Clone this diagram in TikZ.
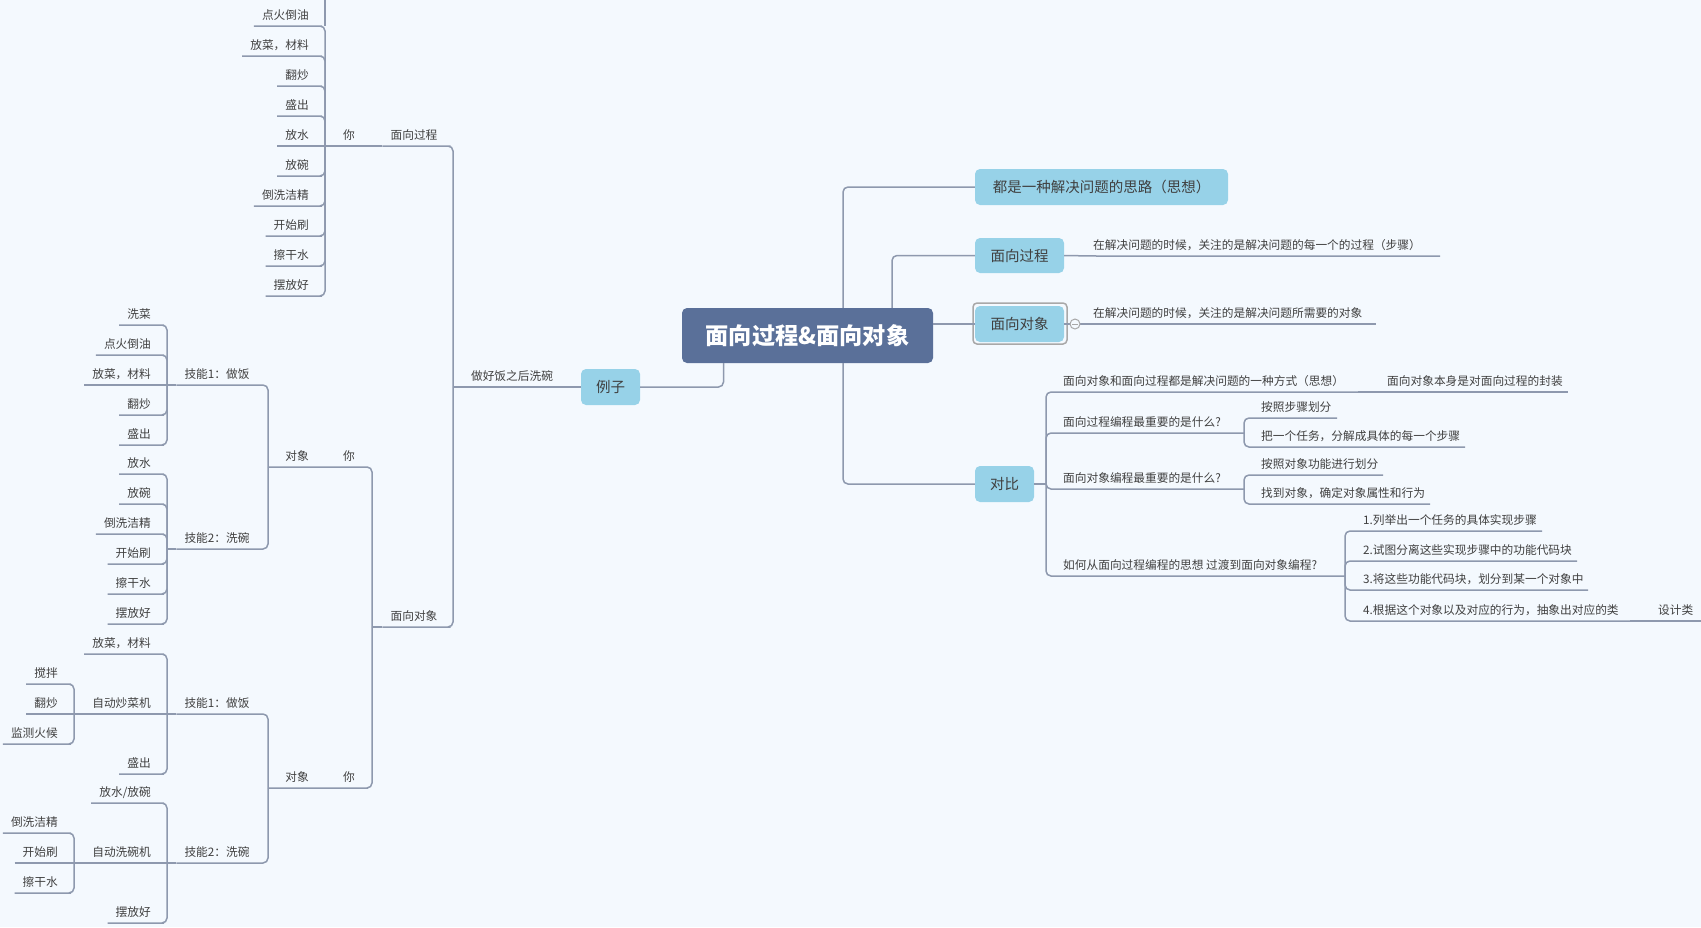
\documentclass[tikz,border=0pt]{standalone}
\usepackage{fontspec}
\setmainfont{Noto Sans CJK SC}
\usetikzlibrary{calc}
\definecolor{bgc}{HTML}{F4F9FE}
\definecolor{lnc}{HTML}{8E99AE}
\definecolor{txc}{HTML}{404040}
\definecolor{boxc}{HTML}{97D2E8}
\definecolor{rootc}{HTML}{5A7099}
\definecolor{selc}{HTML}{A8A8A8}
\tikzset{
  ln/.style={draw=lnc, line width=1.5pt, rounded corners=5pt},
  lt/.style={font=\fontsize{11.7}{14}\selectfont, text=txc, inner xsep=8pt, inner ysep=0pt, text height=9pt, text depth=6.2pt},
  rt/.style={lt, inner xsep=0pt, anchor=south west},
  bx/.style={fill=boxc, rounded corners=5pt, text=txc, font=\fontsize{14.5}{17}\selectfont, inner sep=0pt, minimum height=36pt},
  rootbox/.style={fill=rootc, rounded corners=5pt, text=white, font=\fontsize{23.2}{27}\selectfont\bfseries, inner sep=0pt, minimum width=251pt, minimum height=55pt},
  frame/.style={draw=selc, line width=1.5pt, rounded corners=4pt, inner sep=0pt, minimum width=94pt, minimum height=41pt}
}
\newcommand\brL[5]{\node[lt,anchor=south east] (#1) at (#2,#3) {#4};
  \draw[ln] (#1.south west) -- (#1.south east) -| (#5);}
\newcommand\brS[5]{\node[lt,anchor=south east] (#1) at (#2,#3) {#4};
  \draw[ln] (#1.south west) -- (#5);}
\newcommand\brR[6]{\node[rt] (#1) at (#2,#3) {#4};
  \draw[ln] (#5) |- (#1.south west) -- ++(#6,0);}
\begin{document}
\begin{tikzpicture}[x=1pt,y=-1pt]
\fill[bgc] (0,0) rectangle (1701,927);
\useasboundingbox (0,0) rectangle (1701,927);

% ---------- central and main boxes ----------
\node[rootbox] (root) at (807.5,335.5) {面向过程\&面向对象};
\node[bx, minimum width=253pt] (ds) at (1101.5,187) {都是一种解决问题的思路（思想）};
\node[bx, minimum width=89pt, minimum height=35pt] (gc) at (1019.5,255.5) {面向过程};
\node[frame] (dxf) at (1020,323.5) {};
\node[bx, minimum width=89pt] (dx) at (1019.5,324) {面向对象};
\node[bx, minimum width=59pt] (db) at (1004.5,484) {对比};
\node[bx, minimum width=59pt] (lz) at (610.5,387) {例子};

\draw[ln] ([xshift=35.5pt]root.north) |- (ds.west);
\draw[ln] ([xshift=84.5pt]root.north) |- (gc.west);
\draw[ln] (root.east |- dx.west) -- (dx.west);
\draw[ln] ([xshift=35.5pt]root.south) |- (db.west);
\draw[ln] ([xshift=-84pt]root.south) |- (lz.east);

% ---------- right side texts ----------
\node[rt] (gcT) at (1093,256) {在解决问题的时候，关注的是解决问题的每一个的过程（步骤）};
\draw[ln] (gc.east) -- (gcT.south west) -- ++(347,0);
\node[rt] (dxT) at (1093,324) {在解决问题的时候，关注的是解决问题所需要的对象};
\draw[ln] (dx.east) -- (dxT.south west) -- ++(283,0);
\node[circle, draw=selc, fill=bgc, line width=1pt, minimum size=10pt, inner sep=0pt] (dxc) at (1075,324) {};
\draw[selc, line width=1pt] ([xshift=-3pt]dxc.center) -- ([xshift=3pt]dxc.center);

\coordinate (jdb) at (1046,484);
\draw[ln] (db.east) -- (jdb);
\coordinate (jc1) at (1358,392);
\coordinate (jc2) at (1244,433);
\coordinate (jc3) at (1244,489);
\coordinate (jc4) at (1345,576);
\coordinate (jd4) at (1630,621);

\node[rt] (c1) at (1063,392) {面向对象和面向过程都是解决问题的一种方式（思想）};
\draw[ln] (jdb) |- (c1.south west) -- (jc1);
\node[rt] (c1a) at (1387,392) {面向对象本身是对面向过程的封装};
\draw[ln] (jc1) -- (c1a.south west) -- ++(181,0);

\node[rt] (c2) at (1063,433) {面向过程编程最重要的是什么?};
\draw[ln] (jdb) |- (c2.south west) -- (jc2);
\brR{c2a}{1261}{418}{按照步骤划分}{jc2}{76}
\brR{c2b}{1261}{447}{把一个任务，分解成具体的每一个步骤}{jc2}{204}

\node[rt] (c3) at (1063,489) {面向对象编程最重要的是什么?};
\draw[ln] (jdb) |- (c3.south west) -- (jc3);
\brR{c3a}{1261}{475}{按照对象功能进行划分}{jc3}{122}
\brR{c3b}{1261}{504}{找到对象，确定对象属性和行为}{jc3}{169}

\node[rt] (c4) at (1063,576) {如何从面向过程编程的思想 过渡到面向对象编程?};
\draw[ln] (jdb) |- (c4.south west) -- (jc4);
\brR{d1}{1363}{531}{1.列举出一个任务的具体实现步骤}{jc4}{179}
\brR{d2}{1363}{561}{2.试图分离这些实现步骤中的功能代码块}{jc4}{214}
\brR{d3}{1363}{590}{3.将这些功能代码块，划分到某一个对象中}{jc4}{225}
\node[rt] (d4) at (1363,621) {4.根据这个对象以及对应的行为，抽象出对应的类};
\draw[ln] (jc4) |- (d4.south west) -- (jd4);
\node[rt] (d4a) at (1658,621) {设计类};
\draw[ln] (jd4) -- (d4a.south west) -- ++(50,0);

% ---------- left side ----------
\node[lt, anchor=south] (zfh) at (512,387) {做好饭之后洗碗};
\coordinate (jA) at (453,387);
\draw[ln] (lz.west) -- (zfh.south east) -- (zfh.south west) -- (jA);

% 面向过程 branch
\node[lt, anchor=south] (mg) at (414,146) {面向过程};
\draw[ln] (mg.south west) -- (mg.south east) -| (jA);
\node[lt, anchor=south] (ni0) at (349,146) {你};
\coordinate (jB) at (325,146);
\coordinate (hid) at (325,-8);
\draw[ln] (jB) -- (ni0.south east) -- (mg.south west);
\brL{a1}{317}{26}{点火倒油}{jB}
\draw[ln] (hid) -- (a1.south east -| jB);
\brL{a2}{317}{56}{放菜，材料}{jB}
\brL{a3}{317}{86}{翻炒}{jB}
\brL{a4}{317}{116}{盛出}{jB}
\brS{a5}{317}{146}{放水}{jB}
\brL{a6}{317}{176}{放碗}{jB}
\brL{a7}{317}{206}{倒洗洁精}{jB}
\brL{a8}{317}{236}{开始刷}{jB}
\brL{a9}{317}{266}{擦干水}{jB}
\brL{a10}{317}{296}{摆放好}{jB}

% 面向对象 branch
\node[lt, anchor=south] (mo) at (414,627) {面向对象};
\draw[ln] (mo.south west) -- (mo.south east) -| (jA);
\coordinate (jC) at (372,627);
\draw[ln] (jC) -- (mo.south west);

% upper 你
\node[lt, anchor=south] (n1) at (349,467) {你};
\node[lt, anchor=south] (o1) at (297,467) {对象};
\coordinate (jD) at (268,467);
\draw[ln] (jD) -- (o1.south east) -- (n1.south east) -| (jC);
\node[lt, anchor=south] (k1) at (217,385) {技能1：做饭};
\draw[ln] (k1.south west) -- (k1.south east) -| (jD);
\coordinate (jE) at (167,385);
\draw[ln] (jE) -- (k1.south west);
\node[lt, anchor=south] (k2) at (217,549) {技能2：洗碗};
\draw[ln] (k2.south west) -- (k2.south east) -| (jD);
\coordinate (jF) at (167,549);
\draw[ln] (jF) -- (k2.south west);

\brL{b1}{159}{325}{洗菜}{jE}
\brL{b2}{159}{355}{点火倒油}{jE}
\brS{b3}{159}{385}{放菜，材料}{jE}
\brL{b4}{159}{415}{翻炒}{jE}
\brL{b5}{159}{445}{盛出}{jE}

\brL{b6}{159}{474}{放水}{jF}
\brL{b7}{159}{504}{放碗}{jF}
\brL{b8}{159}{534}{倒洗洁精}{jF}
\brL{b9}{159}{564}{开始刷}{jF}
\brL{b10}{159}{594}{擦干水}{jF}
\brL{b11}{159}{624}{摆放好}{jF}

% lower 你
\node[lt, anchor=south] (n2) at (349,788) {你};
\node[lt, anchor=south] (o2) at (297,788) {对象};
\coordinate (jG) at (268,788);
\draw[ln] (jG) -- (o2.south east) -- (n2.south east) -| (jC);
\node[lt, anchor=south] (k3) at (217,714) {技能1：做饭};
\draw[ln] (k3.south west) -- (k3.south east) -| (jG);
\coordinate (jH) at (167,714);
\draw[ln] (jH) -- (k3.south west);
\node[lt, anchor=south] (k4) at (217,863) {技能2：洗碗};
\draw[ln] (k4.south west) -- (k4.south east) -| (jG);
\coordinate (jI) at (167,863);
\draw[ln] (jI) -- (k4.south west);

\brL{e1}{159}{654}{放菜，材料}{jH}
\brS{m1}{159}{714}{自动炒菜机}{jH}
\brL{e3}{159}{774}{盛出}{jH}
\coordinate (jJ) at (74,714);
\draw[ln] (jJ) -- (m1.south west);
\brL{f1}{66}{684}{搅拌}{jJ}
\brS{f2}{66}{714}{翻炒}{jJ}
\brL{f3}{66}{744}{监测火候}{jJ}

\brL{g1}{159}{803}{放水/放碗}{jI}
\brS{m2}{159}{863}{自动洗碗机}{jI}
\brL{g3}{159}{923}{摆放好}{jI}
\coordinate (jK) at (74,863);
\draw[ln] (jK) -- (m2.south west);
\brL{h1}{66}{833}{倒洗洁精}{jK}
\brS{h2}{66}{863}{开始刷}{jK}
\brL{h3}{66}{893}{擦干水}{jK}
\end{tikzpicture}
\end{document}
